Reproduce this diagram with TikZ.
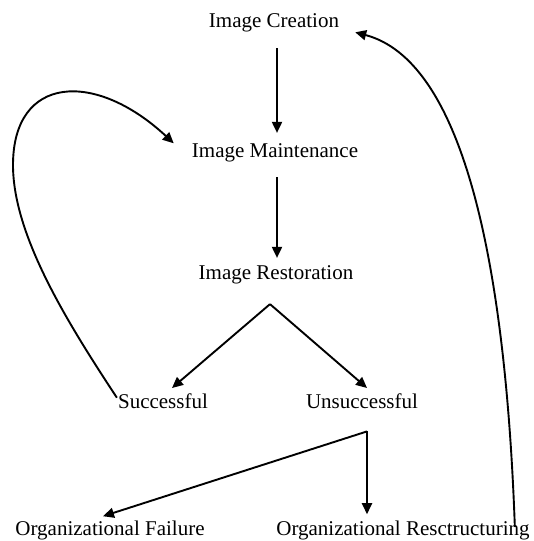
\documentclass[tikz,border=0pt]{standalone}
\usepackage{fontspec}
\setmainfont{Liberation Serif}
\usetikzlibrary{arrows.meta,calc}
\tikzset{
  lbl/.style={anchor=base,inner sep=0pt,font=\fontsize{21}{25}\selectfont},
  arr/.style={line width=1.9pt,-{Triangle[length=11pt,width=10pt]}},
}
\begin{document}
\begin{tikzpicture}[x=1pt,y=-1pt]
\useasboundingbox (0,0) rectangle (533,541);
\node[lbl] (cr) at (274,27) {Image Creation};
\node[lbl] (mt) at (275,157) {Image Maintenance};
\node[lbl] (rs) at (276,279) {Image Restoration};
\node[lbl] (sc) at (163,408) {Successful};
\node[lbl] (us) at (362,408) {Unsuccessful};
\node[lbl] (of) at (110,535) {Organizational Failure};
\node[lbl] (org) at (403,535) {Organizational Resctructuring};
\coordinate (ra) at ($(rs.south)+(-6,20.4)$);
\coordinate (ua) at ($(us.south)+(5,23)$);
\draw[arr] ($(cr.south)+(3,16.4)$) -- ($(mt.north)+(2,-10)$);
\draw[arr] ($(mt.south)+(2,15.4)$) -- ($(rs.north)+(1,-7)$);
\draw[arr] (ra) -- ($(sc.north)+(9,-5)$);
\draw[arr] (ra) -- ($(us.north)+(5,-5)$);
\draw[arr] (ua) -- ($(of.north)+(-7,-4)$);
\draw[arr] (ua) -- ($(org.north)+(-36,-6)$);
\draw[arr] ($(sc.west)+(-1,-3)$) .. controls (67,322) and (13,235) .. (13,165)
   .. controls (13,75) and (95,70) .. ($(mt.west)+(-18,-9)$);
\draw[arr] ($(org.east)+(-15,-3)$) .. controls (505,250) and (460,60) .. ($(cr.east)+(16,10)$);
\end{tikzpicture}
\end{document}
